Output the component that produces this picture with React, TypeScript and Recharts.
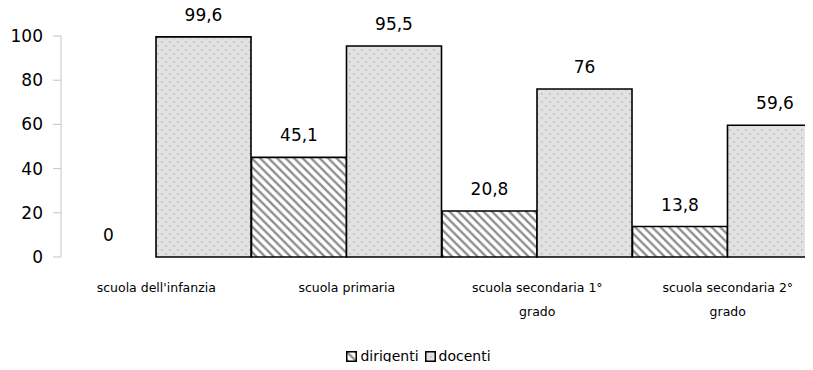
import { Bar, BarChart, Legend, Rectangle, XAxis, YAxis } from 'recharts';

const categories = [
  "scuola dell'infanzia",
  'scuola primaria',
  'scuola secondaria 1° grado',
  'scuola secondaria 2° grado',
];
const dirigenti = [0, 45.1, 20.8, 13.8];
const docenti = [99.6, 95.5, 76, 59.6];
const yTicks = [0, 20, 40, 60, 80, 100];
// small ticks between the category bands
const bandEdges = [0, 1, 2, 3, 4];

const data = categories.map((name, i) => ({ name, dirigenti: dirigenti[i], docenti: docenti[i] }));

const FONT = "'DejaVu Sans', sans-serif";

const series = [
  { key: 'dirigenti', fill: 'url(#hatch)' },
  { key: 'docenti', fill: 'url(#dots)' },
];

function formatValue(v: any) {
  return String(v).replace('.', ',');
}

// break long category names into lines of ~20 chars
function wrapLabel(text: string, max = 20) {
  const words = text.split(' ');
  const lines: string[] = [];
  let cur = '';
  for (const w of words) {
    const next = cur ? cur + ' ' + w : w;
    if (next.length > max && cur) {
      lines.push(cur);
      cur = w;
    } else cur = next;
  }
  if (cur) lines.push(cur);
  return lines;
}

function CategoryTick({ x, y, payload }: any) {
  const lines = wrapLabel(String(payload.value));
  return (
    <g transform={`translate(${x},${y})`}>
      {lines.map((l, i) => (
        <text key={i} x={0} y={0} dy={27 + i * 24} textAnchor="middle" fontSize={12.5} fontFamily={FONT} fill="#000">
          {l}
        </text>
      ))}
    </g>
  );
}

// bar plus its value on top; the value is drawn even when the bar is flat
function BarWithValue(props: any) {
  const { x, y, width, height, value, fill } = props;
  const v = Array.isArray(value) ? value[1] - value[0] : value;
  return (
    <g>
      {height > 0 && (
        <Rectangle x={x} y={y} width={width} height={height} fill={fill} stroke="#000" strokeWidth={1.6} />
      )}
      <text x={x + width / 2} y={y - 16} textAnchor="middle" fontSize={17} fontFamily={FONT} fill="#000">
        {formatValue(v)}
      </text>
    </g>
  );
}

function LegendContent() {
  return (
    <div style={{ display: 'flex', justifyContent: 'center', fontFamily: FONT, fontSize: 14, paddingLeft: 20 }}>
      {series.map((s) => (
        <span key={s.key} style={{ display: 'flex', alignItems: 'center', marginRight: 6 }}>
          <svg width={11} height={11} style={{ marginRight: 3 }}>
            <rect x={0.75} y={0.75} width={9.5} height={9.5} fill={s.fill} stroke="#000" strokeWidth={1.5} />
          </svg>
          {s.key}
        </span>
      ))}
    </div>
  );
}

export default function App() {
  return (
    <div style={{ margin: -8, width: 813, height: 370, overflow: 'hidden', background: '#fff' }}>
      <BarChart
        width={823}
        height={370}
        data={data}
        margin={{ top: 36, right: 0, left: 0, bottom: 6 }}
        barCategoryGap={0}
        barGap={0}
      >
        <defs>
          <pattern id="hatch" patternUnits="userSpaceOnUse" width={8.5} height={8.5}>
            <rect width={8.5} height={8.5} fill="#fff" />
            <path d="M-3,5.5 L3,11.5 M0,0 L8.5,8.5 M5.5,-3 L11.5,3" stroke="#8c8c8c" strokeWidth={2.3} />
          </pattern>
          <pattern id="dots" patternUnits="userSpaceOnUse" width={8} height={8}>
            <rect width={8} height={8} fill="#e1e1e1" />
            <rect x={1} y={1} width={1.5} height={1.5} fill="#b8b8b8" />
            <rect x={5} y={5} width={1.5} height={1.5} fill="#b8b8b8" />
          </pattern>
        </defs>
        <XAxis
          xAxisId="edges"
          type="number"
          domain={[0, 4]}
          ticks={bandEdges}
          tick={false}
          axisLine={false}
          tickLine={{ stroke: '#c4c4c4' }}
          tickSize={6}
          height={0}
          allowDataOverflow
        />
        <XAxis dataKey="name" tick={<CategoryTick />} tickLine={false} axisLine={false} height={91} interval={0} />
        <YAxis
          domain={[0, 100]}
          ticks={yTicks}
          width={61}
          tickSize={8}
          tickMargin={10}
          axisLine={{ stroke: '#c4c4c4' }}
          tickLine={{ stroke: '#c4c4c4' }}
          tick={{ fontSize: 17, fill: '#000', fontFamily: FONT }}
        />
        <Legend verticalAlign="bottom" height={16} content={<LegendContent />} />
        {series.map((s) => (
          <Bar key={s.key} dataKey={s.key} fill={s.fill} shape={BarWithValue} isAnimationActive={false} />
        ))}
      </BarChart>
    </div>
  );
}
